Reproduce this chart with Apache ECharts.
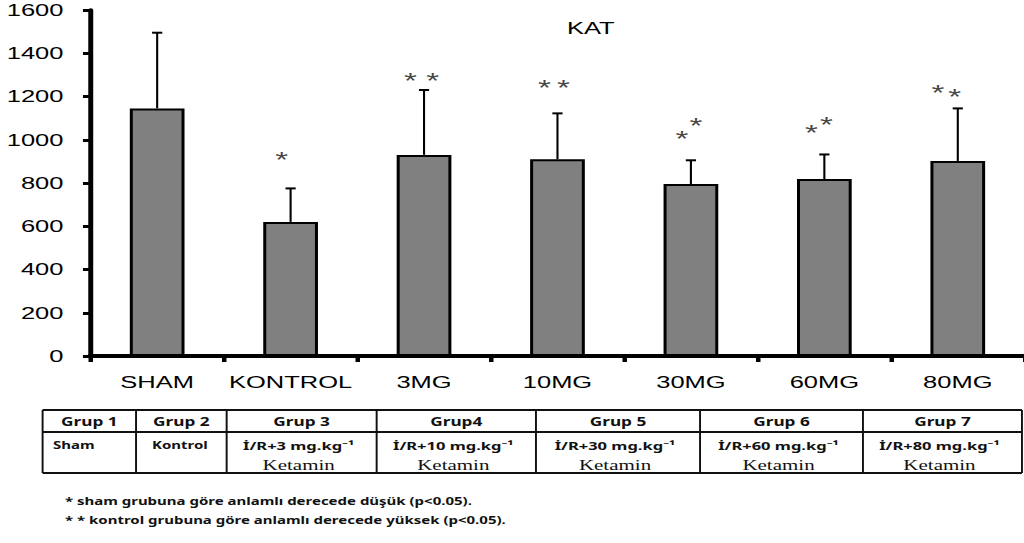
<!DOCTYPE html>
<html><head><meta charset="utf-8">
<script src="https://cdn.jsdelivr.net/npm/echarts@6/dist/echarts.min.js"></script>
<style>
html,body{margin:0;padding:0;background:#fff;overflow:hidden;}
#wrap{width:1024px;height:543px;overflow:hidden;position:relative;background:#fff;}
#chart{width:682.67px;height:543px;transform:scaleX(1.5);transform-origin:0 0;}
</style></head><body><div id="wrap"><div id="chart"></div></div>
<script>
// ---- data ----
const categories = ['SHAM', 'KONTROL', '3MG', '10MG', '30MG', '60MG', '80MG'];
const means = [1145, 620, 930, 910, 795, 818, 902];
const errorTops = [1495, 775, 1230, 1122, 905, 932, 1145];
const starCategory = [1, 2, 2, 3, 3, 4, 4, 5, 5, 6, 6];
const starValue = [929, 1292, 1292, 1260, 1260, 1022, 1082, 1054, 1087, 1239, 1216];
const chartTitle = 'KAT';
const groupNames = ['Grup 1', 'Grup 2', 'Grup 3', 'Grup4', 'Grup 5', 'Grup 6', 'Grup 7'];
const groupDescs = ['Sham', 'Kontrol', 'İ/R+3 mg.kg⁻¹', 'İ/R+10 mg.kg⁻¹', 'İ/R+30 mg.kg⁻¹', 'İ/R+60 mg.kg⁻¹', 'İ/R+80 mg.kg⁻¹'];
const groupSubs = ['', '', 'Ketamin', 'Ketamin', 'Ketamin', 'Ketamin', 'Ketamin'];
const footnotes = ['* sham grubuna göre anlamlı derecede düşük (p<0.05).', '* * kontrol grubuna göre anlamlı derecede yüksek (p<0.05).'];

// ---- layout (unscaled coordinates; page is stretched 1.5x horizontally) ----
const starDx = [-6, -9, 5.7, -8.7, 4, -6, 3.3, -8.7, 1.3, -13.3, -2];
const colEdges = [28.4, 90.7, 151.1, 251.1, 357.3, 466.7, 575.3, 681.3];
const rowY = [410, 432, 473];
const FONT = 'Liberation Sans';

const chart = echarts.init(document.getElementById('chart'), null, {renderer: 'svg'});

const graphics = [];
rowY.forEach(y => graphics.push({type: 'line', shape: {x1: colEdges[0], y1: y, x2: colEdges[colEdges.length - 1], y2: y}, style: {stroke: '#111', lineWidth: 1.8}}));
colEdges.forEach(x => graphics.push({type: 'line', shape: {x1: x, y1: rowY[0], x2: x, y2: rowY[2]}, style: {stroke: '#111', lineWidth: 1.3}}));
groupNames.forEach((g, i) => {
  const cx = (colEdges[i] + colEdges[i + 1]) / 2;
  graphics.push({type: 'text', x: cx, y: 421, style: {text: g, align: 'center', verticalAlign: 'middle', font: 'bold 11.5px "Noto Sans"', fill: '#111'}});
  if (i === 0) {
    graphics.push({type: 'text', x: colEdges[i] + 7, y: 445, style: {text: groupDescs[i], align: 'left', verticalAlign: 'middle', font: 'bold 10px "Noto Sans"', fill: '#111'}});
  } else if (i === 1) {
    graphics.push({type: 'text', x: cx - 1, y: 445, style: {text: groupDescs[i], align: 'center', verticalAlign: 'middle', font: 'bold 10px "Noto Sans"', fill: '#111'}});
  } else {
    graphics.push({type: 'text', x: cx - 2, y: 446, style: {text: groupDescs[i], align: 'center', verticalAlign: 'middle', font: 'bold 11px "Noto Sans"', fill: '#111'}});
    graphics.push({type: 'text', x: cx - 2, y: 465, style: {text: groupSubs[i], align: 'center', verticalAlign: 'middle', font: '14px "Liberation Serif"', fill: '#111'}});
  }
});
footnotes.forEach((t, i) => graphics.push({type: 'text', x: 43.3, y: 501 + i * 19, style: {text: t, align: 'left', verticalAlign: 'middle', font: 'bold 10px "Noto Sans"', fill: '#111'}}));

chart.setOption({
  animation: false,
  backgroundColor: '#fff',
  title: {text: chartTitle, left: 378, top: 20, padding: 0, textStyle: {fontFamily: FONT, fontSize: 17, fontWeight: 'normal', color: '#000'}},
  grid: {left: 60.3, top: 10, width: 628, height: 346},
  xAxis: {
    type: 'category', data: categories,
    axisLine: {lineStyle: {color: '#000', width: 4}},
    axisTick: {show: true, length: 6, lineStyle: {color: '#000', width: 3}},
    axisLabel: {color: '#000', fontSize: 17, fontFamily: FONT, margin: 18, interval: 0}
  },
  yAxis: {
    type: 'value', min: 0, max: 1600, interval: 200,
    axisLine: {show: true, lineStyle: {color: '#000', width: 3.3}},
    axisTick: {show: true, length: 5, lineStyle: {color: '#000', width: 3}},
    axisLabel: {color: '#000', fontSize: 17, fontFamily: FONT, margin: 18, formatter: v => String(v)},
    splitLine: {show: false}
  },
  series: [
    {
      type: 'custom', z: 1,
      renderItem(params, api) {
        const i = api.value(0);
        const b = api.coord([i, api.value(1)]);
        const t = api.coord([i, api.value(2)]);
        const cap = 3.4;
        return {type: 'group', children: [
          {type: 'line', shape: {x1: b[0], y1: b[1], x2: t[0], y2: t[1]}, style: {stroke: '#000', lineWidth: 1.4}},
          {type: 'line', shape: {x1: t[0] - cap, y1: t[1], x2: t[0] + cap, y2: t[1]}, style: {stroke: '#000', lineWidth: 2}}
        ]};
      },
      data: categories.map((c, i) => [i, means[i], errorTops[i]])
    },
    {
      type: 'bar', z: 2, data: means, barWidth: '41%',
      itemStyle: {color: '#808080', borderColor: '#000', borderWidth: 2}
    },
    {
      type: 'scatter', z: 3, symbolSize: 1,
      itemStyle: {color: 'rgba(0,0,0,0)'},
      label: {show: true, position: 'inside', formatter: '*', fontSize: 22, fontFamily: FONT, color: '#111'},
      data: starCategory.map((c, k) => ({value: [c, starValue[k]], label: {offset: [starDx[k], 4]}}))
    }
  ],
  graphic: graphics
});
</script></body></html>
